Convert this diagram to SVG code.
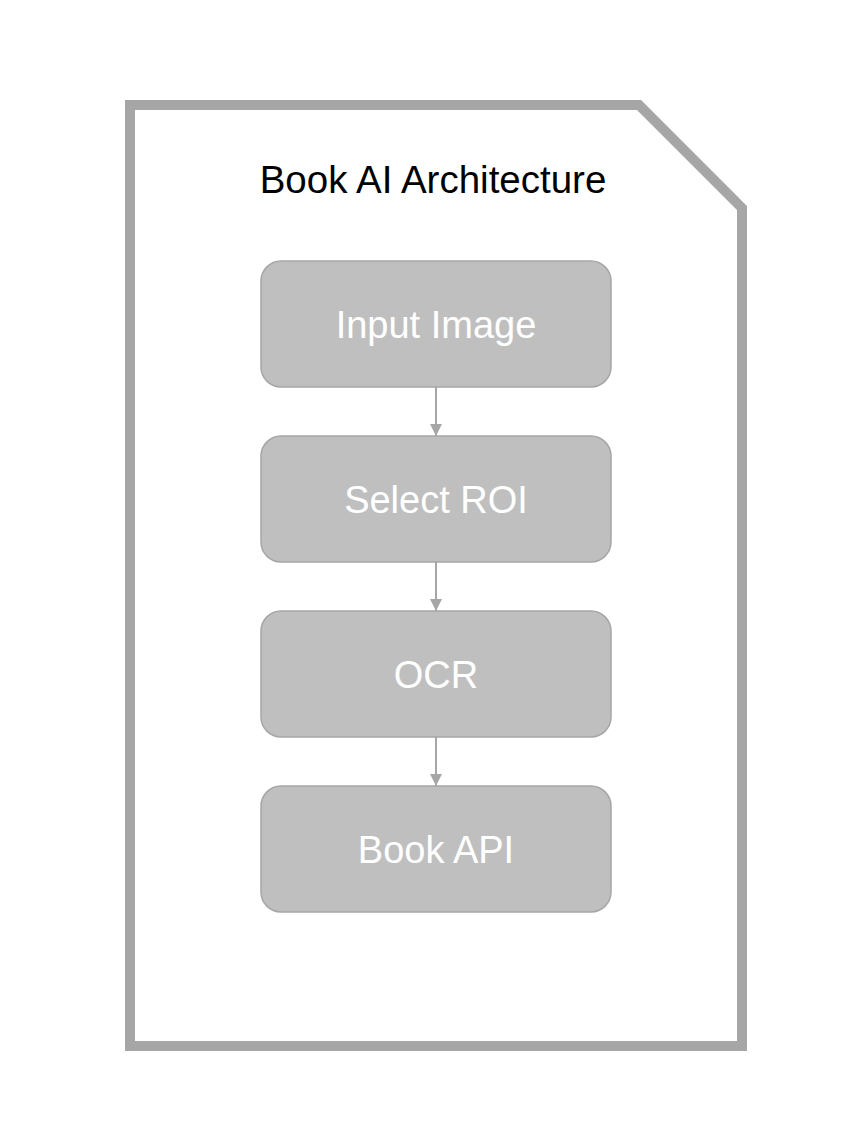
<svg xmlns="http://www.w3.org/2000/svg" width="862" height="1142" viewBox="0 0 862 1142">
<style>
.frame{fill:#ffffff;stroke:#a6a6a6;stroke-width:10;stroke-linejoin:miter}
.node rect{fill:#bfbfbf;stroke:#a6a6a6;stroke-width:1.5}
.node text{fill:#ffffff;font-family:"Liberation Sans",Arial,sans-serif;font-size:38px;text-anchor:middle}
.title{fill:#000000;font-family:"Liberation Sans",Arial,sans-serif;font-size:38.5px;text-anchor:middle}
.conn line{stroke:#a6a6a6;stroke-width:2}
</style>
<defs>
<marker id="arrow" viewBox="0 0 10 10" refX="10" refY="5" markerWidth="6" markerHeight="6.5" markerUnits="strokeWidth" orient="auto">
<path d="M0,0 L10,5 L0,10 z" fill="#a6a6a6"/>
</marker>
</defs>
<rect width="862" height="1142" fill="#ffffff"/>
<g id="frame">
<path class="frame" d="M130,105 L639,105 L742,208 L742,1046 L130,1046 Z"/>
<text class="title" x="433" y="193">Book AI Architecture</text>
</g>
<g class="conn" id="connectors">
<line x1="436" y1="387" x2="436" y2="436" marker-end="url(#arrow)"/>
<line x1="436" y1="562" x2="436" y2="611" marker-end="url(#arrow)"/>
<line x1="436" y1="737" x2="436" y2="786" marker-end="url(#arrow)"/>
</g>
<g class="node" id="node-input">
<rect x="261" y="261" width="350" height="126" rx="20"/>
<text x="436" y="338">Input Image</text>
</g>
<g class="node" id="node-roi">
<rect x="261" y="436" width="350" height="126" rx="20"/>
<text x="436" y="513">Select ROI</text>
</g>
<g class="node" id="node-ocr">
<rect x="261" y="611" width="350" height="126" rx="20"/>
<text x="436" y="688">OCR</text>
</g>
<g class="node" id="node-api">
<rect x="261" y="786" width="350" height="126" rx="20"/>
<text x="436" y="863">Book API</text>
</g>
</svg>
